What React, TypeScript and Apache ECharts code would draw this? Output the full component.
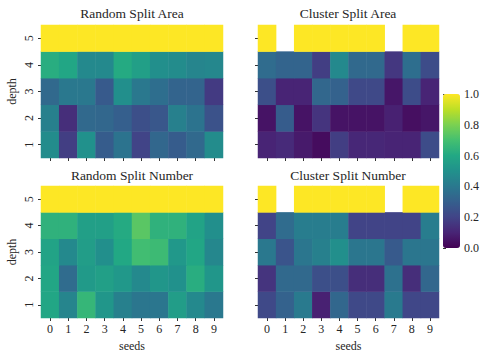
import React, { useEffect, useRef } from "react";
import * as echarts from "echarts";

const seeds = ["0", "1", "2", "3", "4", "5", "6", "7", "8", "9"];
const depths = ["1", "2", "3", "4", "5"];
const titles = ["Random Split Area", "Cluster Split Area", "Random Split Number", "Cluster Split Number"];
const colorbarTicks = [0, 0.2, 0.4, 0.6, 0.8, 1.0];

// rows: depth 1 .. depth 5; columns: seeds 0..9; null = missing
const randomSplitArea: (number | null)[][] = [
  [0.48, 0.18, 0.5, 0.29, 0.38, 0.2, 0.33, 0.29, 0.34, 0.48],
  [0.43, 0.13, 0.34, 0.33, 0.3, 0.24, 0.27, 0.43, 0.38, 0.25],
  [0.34, 0.4, 0.4, 0.28, 0.49, 0.4, 0.36, 0.32, 0.32, 0.17],
  [0.62, 0.59, 0.47, 0.47, 0.61, 0.56, 0.49, 0.48, 0.45, 0.46],
  [1, 1, 1, 1, 1, 1, 1, 1, 1, 1],
];
const clusterSplitArea: (number | null)[][] = [
  [0.1, 0.12, 0.07, 0.03, 0.18, 0.11, 0.11, 0.1, 0.1, 0.23],
  [0.05, 0.29, 0.05, 0.15, 0.05, 0.05, 0.05, 0.09, 0.04, 0.06],
  [0.24, 0.1, 0.1, 0.33, 0.31, 0.22, 0.22, 0.06, 0.23, 0.1],
  [0.35, 0.32, 0.32, 0.18, 0.47, 0.34, 0.34, 0.16, 0.36, 0.23],
  [1, null, 1, 1, 1, 1, 1, null, 1, 1],
];
const randomSplitNumber: (number | null)[][] = [
  [0.59, 0.45, 0.66, 0.52, 0.43, 0.39, 0.39, 0.55, 0.47, 0.4],
  [0.59, 0.35, 0.54, 0.56, 0.53, 0.47, 0.52, 0.5, 0.62, 0.52],
  [0.58, 0.47, 0.55, 0.49, 0.6, 0.69, 0.68, 0.53, 0.59, 0.46],
  [0.64, 0.64, 0.56, 0.56, 0.61, 0.74, 0.64, 0.64, 0.58, 0.49],
  [1, 1, 1, 1, 1, 1, 1, 1, 1, 1],
];
const clusterSplitNumber: (number | null)[][] = [
  [0.22, 0.31, 0.41, 0.09, 0.33, 0.22, 0.22, 0.41, 0.21, 0.21],
  [0.15, 0.34, 0.34, 0.24, 0.24, 0.13, 0.13, 0.37, 0.13, 0.33],
  [0.4, 0.26, 0.39, 0.43, 0.49, 0.39, 0.39, 0.28, 0.39, 0.39],
  [0.2, 0.35, 0.42, 0.42, 0.42, 0.2, 0.2, 0.2, 0.2, 0.42],
  [1, null, 1, 1, 1, 1, 1, null, 1, 1],
];

const viridis = [
  "#440154", "#482475", "#414487", "#355f8d", "#2a788e", "#21918c",
  "#22a884", "#44bf70", "#7ad151", "#bddf26", "#fde725",
];

const FONT = "'Liberation Serif', 'DejaVu Serif', serif";
const TEXT = "#262626";

function toData(m: (number | null)[][]) {
  const out: [number, number, number][] = [];
  m.forEach((row, yi) =>
    row.forEach((v, xi) => {
      if (v !== null) out.push([xi, yi, v]);
    })
  );
  return out;
}

export default function App() {
  const ref = useRef<HTMLDivElement>(null);
  useEffect(() => {
    if (!ref.current) return;
    const chart = echarts.init(ref.current, undefined, { renderer: "svg" });
    const panels = [
      { m: randomSplitArea, left: 41, top: 25, width: 182, height: 133 },
      { m: clusterSplitArea, left: 258, top: 25, width: 181, height: 133 },
      { m: randomSplitNumber, left: 41, top: 186, width: 182, height: 134 },
      { m: clusterSplitNumber, left: 258, top: 186, width: 181, height: 134 },
    ];
    const grids: any[] = panels.map((p) => ({ left: p.left, top: p.top, width: p.width, height: p.height }));
    grids.push({ left: 443, top: 94, width: 17, height: 154 });

    const tick = { show: true, length: 3, alignWithLabel: true, lineStyle: { color: "#333", width: 1 } };
    const xAxes: any[] = panels.map((_, i) => ({
      type: "category",
      gridIndex: i,
      data: seeds,
      axisLine: { show: false },
      axisTick: tick,
      axisLabel: { show: i >= 2, fontFamily: FONT, fontSize: 12, color: TEXT, margin: 5 },
      name: i >= 2 ? "seeds" : "",
      nameLocation: "middle",
      nameGap: 22,
      nameTextStyle: { fontFamily: FONT, fontSize: 12, color: TEXT },
      splitLine: { show: false },
    }));
    xAxes.push({ type: "value", gridIndex: 4, show: false, min: 0, max: 1 });
    const yAxes: any[] = panels.map((_, i) => ({
      type: "category",
      gridIndex: i,
      data: depths,
      axisLine: { show: false },
      axisTick: tick,
      axisLabel: { show: i % 2 === 0, rotate: 90, fontFamily: FONT, fontSize: 12, color: TEXT, margin: 6 },
      name: i % 2 === 0 ? "depth" : "",
      nameLocation: "middle",
      nameGap: 23,
      nameRotate: 90,
      nameTextStyle: { fontFamily: FONT, fontSize: 12, color: TEXT },
      splitLine: { show: false },
    }));
    yAxes.push({
      type: "value",
      gridIndex: 4,
      position: "right",
      min: 0,
      max: 1,
      interval: 0.2,
      axisLine: { show: false },
      axisTick: { show: true, length: 3, lineStyle: { color: "#333" } },
      splitLine: { show: false },
      axisLabel: {
        fontFamily: FONT,
        fontSize: 12,
        color: TEXT,
        margin: 4,
        formatter: (v: number) => v.toFixed(1),
      },
      data: colorbarTicks,
    });

    const titleCenters = [
      [132, 13],
      [348, 13],
      [132, 175],
      [348, 175],
    ];

    chart.setOption({
      animation: false,
      backgroundColor: "#ffffff",
      grid: grids,
      xAxis: xAxes,
      yAxis: yAxes,
      visualMap: {
        type: "continuous",
        min: 0,
        max: 1,
        seriesIndex: [0, 1, 2, 3],
        calculable: false,
        orient: "vertical",
        left: 443,
        top: 94,
        itemWidth: 17,
        itemHeight: 154,
        padding: 0,
        text: ["", ""],
        textGap: 0,
        showLabel: false,
        inRange: { color: viridis },
      },
      graphic: titles.map((t, i) => ({
        type: "text",
        x: titleCenters[i][0],
        y: titleCenters[i][1],
        style: {
          text: t,
          font: `13.5px ${FONT}`,
          fill: TEXT,
          textAlign: "center",
          textVerticalAlign: "middle",
        },
      })),
      series: panels.map((p, i) => ({
        type: "heatmap",
        xAxisIndex: i,
        yAxisIndex: i,
        data: toData(p.m),
        itemStyle: { borderWidth: 0 },
        emphasis: { disabled: true },
      })),
    });
    return () => chart.dispose();
  }, []);
  return <div ref={ref} style={{ width: 483, height: 353, position: "absolute", left: 0, top: 0 }} />;
}
